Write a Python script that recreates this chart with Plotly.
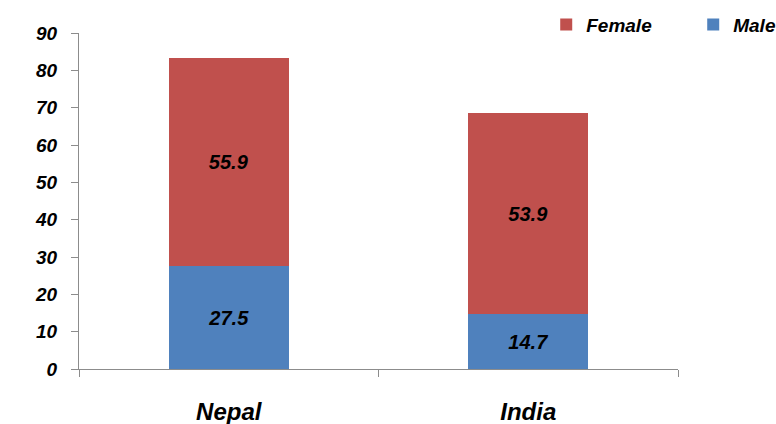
import plotly.graph_objects as go

countries = ["Nepal", "India"]
male = [27.5, 14.7]
female = [55.9, 53.9]
y_ticks = [0, 10, 20, 30, 40, 50, 60, 70, 80, 90]

FONT = "Liberation Sans, Arial, sans-serif"
RED = "#C0504D"
BLUE = "#4F81BD"
AXIS = "#8C8C8C"

fig = go.Figure()
fig.add_trace(go.Bar(
    x=countries, y=male, name="Male", marker=dict(color=BLUE, line=dict(width=0)),
    text=[f"{v:.1f}" for v in male], textposition="inside", insidetextanchor="middle",
    textangle=0, constraintext="none",
    textfont=dict(family=FONT, size=20, color="black", weight="bold", style="italic"),
))
fig.add_trace(go.Bar(
    x=countries, y=female, name="Female", marker=dict(color=RED, line=dict(width=0)),
    text=[f"{v:.1f}" for v in female], textposition="inside", insidetextanchor="middle",
    textangle=0, constraintext="none",
    textfont=dict(family=FONT, size=20, color="black", weight="bold", style="italic"),
))

fig.update_layout(
    width=776, height=424,
    barmode="stack", bargap=0.6,
    plot_bgcolor="white", paper_bgcolor="white",
    margin=dict(l=79, r=98, t=33, b=55, pad=0, autoexpand=False),
    font=dict(family=FONT, color="black"),
    hovermode=False,
    legend=dict(
        orientation="h", traceorder="reversed",
        x=0.78, xanchor="left", y=1.025, yanchor="middle",
        entrywidth=102, entrywidthmode="pixels",
        font=dict(family=FONT, size=19, color="black", weight="bold", style="italic"),
        bgcolor="rgba(0,0,0,0)",
    ),
    xaxis=dict(
        type="category", range=[-0.5, 1.5],
        showline=True, linecolor=AXIS, linewidth=1,
        ticks="outside", tickson="boundaries", ticklen=7, tickcolor=AXIS,
        showgrid=False, zeroline=False,
        tickfont=dict(family=FONT, size=24, color="black", weight="bold", style="italic"),
        ticklabelstandoff=21,
    ),
    yaxis=dict(
        range=[0, 90], tickvals=y_ticks,
        showline=True, linecolor=AXIS, linewidth=1,
        ticks="outside", ticklen=7, tickcolor=AXIS,
        showgrid=False, zeroline=False,
        tickfont=dict(family=FONT, size=19, color="black", weight="bold", style="italic"),
        ticklabelstandoff=10,
    ),
)

fig.write_html(
    "out.html",
    config={"displayModeBar": False},
    post_script="document.body.style.margin='0';document.body.style.overflow='hidden';",
)
